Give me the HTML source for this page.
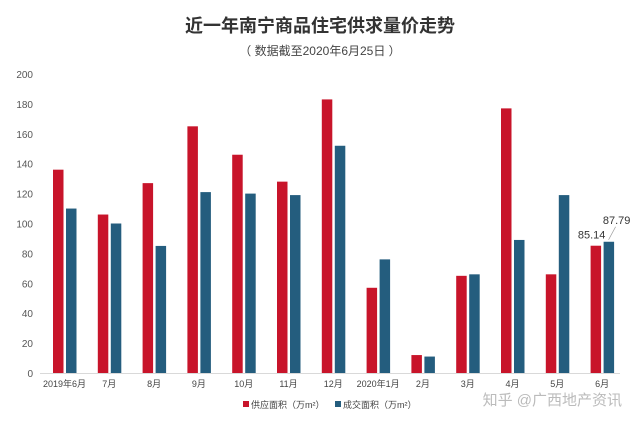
<!DOCTYPE html>
<html><head><meta charset="utf-8"><style>
body{margin:0;background:#fff;}
svg{display:block;font-family:"Liberation Sans","Noto Sans CJK SC",sans-serif;}
</style></head><body>
<svg id="c" width="640" height="424">
<text x="320" y="32" text-anchor="middle" font-size="18" font-weight="bold" fill="#333">近一年南宁商品住宅供求量价走势</text>
<text x="320" y="55" text-anchor="middle" font-size="12" fill="#444">（ 数据截至2020年6月25日 ）</text>
<g id="axis"></g><g id="bars"></g>
<g>
<rect x="243" y="401" width="6" height="6" fill="#c8142a"/>
<text x="251" y="408" font-size="9" fill="#444">供应面积（万m²）</text>
<rect x="335" y="401" width="6" height="6" fill="#245d7e"/>
<text x="343" y="408" font-size="9" fill="#444">成交面积（万m²）</text>
</g>
<text x="622" y="405" text-anchor="end" font-size="15" fill="#bbb">知乎 @广西地产资讯</text>
</svg>
<script>
const categories=["2019年6月","7月","8月","9月","10月","11月","12月","2020年1月","2月","3月","4月","5月","6月"];
const supply=[136,106,127,165,146,128,183,57,12,65,177,66,85.14];
const deal=[110,100,85,121,120,119,152,76,11,66,89,119,87.79];
const yTicks=[0,20,40,60,80,100,120,140,160,180,200];
const NS="http://www.w3.org/2000/svg";
const y0=373,y1=74,x0=40,x1=620,step=44.8,first=53;
const y=v=>y0-(v/200)*(y0-y1);
const xg=i=>first+i*step;
function mk(t,a,p){const e=document.createElementNS(NS,t);for(const k in a)e.setAttribute(k,a[k]);p.appendChild(e);return e;}
const ax=document.getElementById('axis'),bs=document.getElementById('bars');
yTicks.forEach(v=>{const t=mk('text',{x:33,y:y(v)+4,'text-anchor':'end','font-size':10,fill:'#555'},ax);t.textContent=v;

});
const base=mk('line',{x1:x0,x2:x1,y1:y0+0.5,y2:y0+0.5,stroke:'#d9d9d9'},ax);


categories.forEach((c,i)=>{
const r=mk('rect',{x:xg(i),y:y(supply[i]),width:10.5,height:y0-y(supply[i]),fill:'#c8142a'},bs);


const b=mk('rect',{x:xg(i)+13,y:y(deal[i]),width:10.5,height:y0-y(deal[i]),fill:'#245d7e'},bs);


const t=mk('text',{x:xg(i)+11.5,y:387,'text-anchor':'middle','font-size':9,fill:'#444'},ax);t.textContent=c;


});
const n=categories.length-1;
const l1=mk('text',{x:xg(n)+1,y:y(supply[n])-7,'text-anchor':'middle','font-size':11,fill:'#333'},bs);l1.textContent=supply[n];


const l2=mk('text',{x:xg(n)+26,y:y(deal[n])-18,'text-anchor':'middle','font-size':11,fill:'#333'},bs);l2.textContent=deal[n];


const ld=mk('line',{x1:xg(n)+18,y1:y(deal[n])-2,x2:xg(n)+25,y2:y(deal[n])-15,stroke:'#999','stroke-width':0.7},bs);


</script>
</body></html>
